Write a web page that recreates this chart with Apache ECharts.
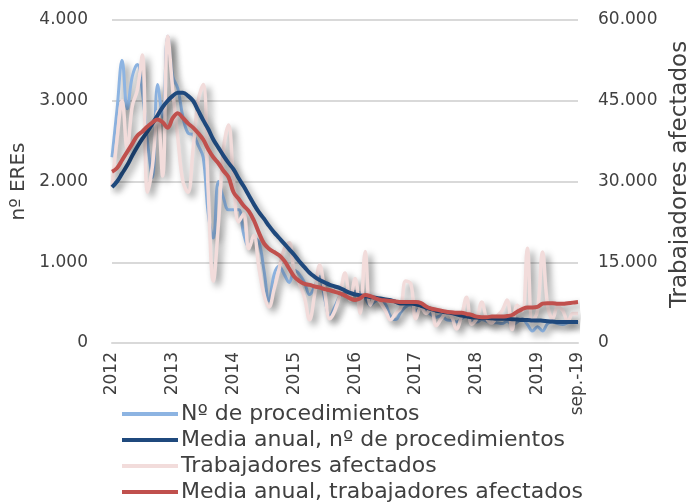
<!DOCTYPE html>
<html>
<head>
<meta charset="utf-8">
<script src="https://cdn.jsdelivr.net/npm/echarts@6/dist/echarts.min.js"></script>
<style>
  html, body { margin: 0; padding: 0; background: #fff; }
  #chart { width: 688px; height: 502px; }
</style>
</head>
<body>
<div id="chart"></div>
<script>
// monthly, Jan 2012 .. Sep 2019
const tickLabels = ["2012", "2013", "2014", "2015", "2016", "2017", "2018", "2019", "sep.-19"];
const tickIndex = [0, 12, 24, 36, 48, 60, 72, 84, 92];

// Nº de procedimientos (left axis)
const procedimientos = [
  2300, 2900, 3500, 2900, 3300, 3450, 3100, 2500, 2050, 3200, 2800, 3800,
  3300, 3150, 2800, 2600, 2580, 2450, 2300, 1600, 1300, 2000, 1800, 1650,
  1650, 1650, 1350, 1200, 1300, 1250, 900, 520, 850, 950, 850, 750,
  900, 850, 750, 600, 700, 820, 550, 330, 450, 580, 620, 610,
  640, 620, 550, 470, 520, 530, 480, 330, 290, 380, 450, 470,
  400, 430, 400, 350, 320, 340, 290, 280, 260, 300, 330, 270,
  260, 290, 270, 250, 250, 240, 270, 220, 260, 300, 230, 150,
  200, 150, 240, 260, 240, 230, 250, 260, 250
];

// Media anual, nº de procedimientos (left axis)
const mediaProc = [
  1930, 2000, 2100, 2200, 2320, 2430, 2530, 2620, 2720, 2820, 2920, 3000,
  3060, 3100, 3100, 3060, 3000, 2880, 2760, 2650, 2520, 2420, 2320, 2230,
  2150, 2040, 1940, 1830, 1720, 1620, 1540, 1450, 1370, 1300, 1230, 1160,
  1090, 1010, 940, 870, 820, 780, 750, 720, 700, 680, 650, 620,
  600, 590, 580, 570, 560, 550, 540, 530, 510, 490, 490, 490,
  480, 460, 440, 420, 400, 390, 380, 370, 355, 340, 330, 320,
  315, 310, 310, 305, 300, 300, 300, 295, 290, 285, 285, 280,
  280, 275, 270, 265, 260, 260, 260, 260, 260
];

// Trabajadores afectados (right axis)
const trabajadores = [
  29000, 38000, 45000, 36000, 44000, 47000, 53500, 28000, 33000, 43000, 31000, 57000,
  47000, 38000, 30000, 28000, 36000, 45000, 48000, 28000, 11500, 22000, 36000, 40500,
  30000, 22500, 24000, 17500, 20000, 14000, 9000, 6700, 10000, 13800, 17500, 18600,
  13000, 11000, 8500, 4300, 9000, 14500, 9500, 4500, 6000, 9000, 13000, 8000,
  12000, 5500, 17000, 7000, 8500, 7500, 6000, 4300, 5500, 6500, 11500, 11000,
  4500, 6700, 5500, 6500, 3200, 4500, 5500, 5000, 2600, 5000, 8500, 3500,
  4500, 7600, 4500, 3700, 5000, 6000, 8000, 2500, 7000, 6000, 17600, 4000,
  6000, 16900, 7000, 4500, 6700, 6000, 4000, 5500, 5500
];

// Media anual, trabajadores afectados (right axis)
const mediaTrab = [
  31800, 32500, 34000, 35500, 37000, 38500, 39300, 40200, 41000, 41500, 41000, 40000,
  41800, 42700, 41800, 40800, 40000, 39000, 37800, 36000, 34500, 33400, 32000, 30800,
  28000, 26800, 25500, 24500, 22800, 20500, 18500, 17500, 16900, 16300, 15300, 13800,
  12300, 11500, 11000, 10800, 10500, 10300, 10000, 9800, 9500, 9200, 8800, 8300,
  8000, 8300, 8900, 8700, 8300, 8000, 7900, 7800, 7700, 7600, 7600, 7600,
  7600, 7400, 6800, 6400, 6200, 6000, 5800, 5700, 5600, 5600, 5400, 5200,
  4900, 4800, 4800, 4900, 4900, 4900, 5000, 5200, 5800, 6300, 6600, 6600,
  6700, 7300, 7400, 7400, 7300, 7300, 7400, 7500, 7600
];

const seriesNames = [
  "Nº de procedimientos",
  "Media anual, nº de procedimientos",
  "Trabajadores afectados",
  "Media anual, trabajadores afectados"
];

const months = procedimientos.map((_, i) => (2012 + Math.floor(i / 12)) + "-" + (i % 12 + 1));
const labelAt = {};
tickIndex.forEach((idx, k) => { labelAt[idx] = tickLabels[k]; });

const FONT = "DejaVu Sans";
const thousands = (v) => String(v).replace(/\B(?=(\d{3})+(?!\d))/g, ".");
const shadow = {
  shadowColor: "rgba(0,0,0,0.42)",
  shadowBlur: 7,
  shadowOffsetX: 4,
  shadowOffsetY: 4
};

const line = (name, data, color, width, yAxisIndex, z) => ({
  name: name,
  type: "line",
  data: data,
  yAxisIndex: yAxisIndex,
  smooth: 0.4,
  symbol: "none",
  z: z,
  color: color,
  lineStyle: Object.assign({ color: color, width: width }, shadow)
});

const chart = echarts.init(document.getElementById("chart"));
chart.setOption({
  animation: false,
  textStyle: { fontFamily: FONT },
  grid: { left: 112, right: 110, top: 20, bottom: 159, containLabel: false, outerBoundsMode: "none" },
  legend: {
    orient: "vertical",
    left: 122,
    top: 403,
    height: 140,
    padding: 0,
    icon: "rect",
    itemWidth: 56,
    itemHeight: 4,
    itemGap: 4,
    textStyle: { fontFamily: FONT, fontSize: 22, color: "#404040", lineHeight: 21, padding: [0, 0, 0, -2] },
    data: seriesNames
  },
  xAxis: {
    type: "category",
    data: months,
    boundaryGap: false,
    axisTick: { show: false },
    axisLine: { lineStyle: { color: "#d9d9d9", width: 2 } },
    axisLabel: {
      interval: 0,
      rotate: 90,
      margin: 9,
      fontFamily: FONT,
      fontSize: 17,
      color: "#404040",
      formatter: (v, i) => labelAt[i] || ""
    }
  },
  yAxis: [
    {
      type: "value",
      min: 0,
      max: 4000,
      interval: 1000,
      name: "nº EREs",
      nameLocation: "middle",
      nameGap: 80,
      nameTextStyle: { fontFamily: FONT, fontSize: 20, color: "#404040" },
      axisLine: { show: false },
      axisTick: { show: false },
      splitLine: { lineStyle: { color: "#d9d9d9", width: 2 } },
      axisLabel: { fontFamily: FONT, fontSize: 17, color: "#404040", margin: 24, formatter: thousands }
    },
    {
      type: "value",
      min: 0,
      max: 60000,
      interval: 15000,
      name: "Trabajadores afectados",
      nameLocation: "middle",
      nameGap: 89,
      nameTextStyle: { fontFamily: FONT, fontSize: 23, color: "#404040", padding: [0, 0, 0, 14] },
      axisLine: { show: false },
      axisTick: { show: false },
      splitLine: { show: false },
      axisLabel: { fontFamily: FONT, fontSize: 17, color: "#404040", margin: 20, formatter: thousands }
    }
  ],
  series: [
    line(seriesNames[0], procedimientos, "#8db4e2", 3, 0, 2),
    line(seriesNames[1], mediaProc, "#1f497d", 4, 0, 4),
    line(seriesNames[2], trabajadores, "#f2dcdb", 3.5, 1, 3),
    line(seriesNames[3], mediaTrab, "#c0504d", 4, 1, 5)
  ]
});
</script>
</body>
</html>
